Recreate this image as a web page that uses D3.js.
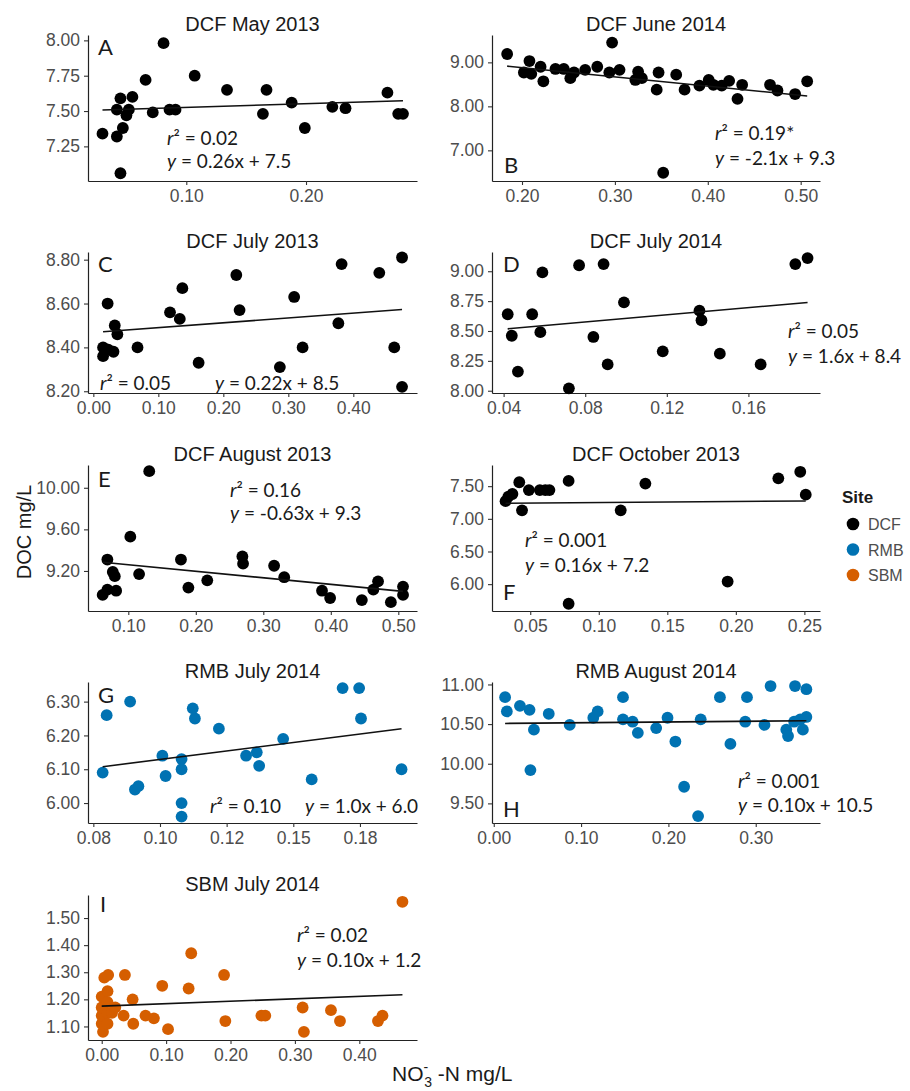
<!DOCTYPE html>
<html>
<head>
<meta charset="utf-8">
<script src="https://cdn.jsdelivr.net/npm/d3@7"></script>
<style>
body { margin: 0; background: #fff; }
</style>
</head>
<body>
<div id="chart"></div>
<script>
// panel info
const titles = ["DCF May 2013", "DCF June 2014", "DCF July 2013", "DCF July 2014", "DCF August 2013",
    "DCF October 2013", "RMB July 2014", "RMB August 2014", "SBM July 2014"];
const letters = ["A", "B", "C", "D", "E", "F", "G", "H", "I"];
const panelSite = ["DCF", "DCF", "DCF", "DCF", "DCF", "DCF", "RMB", "RMB", "SBM"];
const sites = ["DCF", "RMB", "SBM"];
const siteColors = ["#000000", "#0072B2", "#D55E00"];

// NO3-N (x) and DOC (y) per panel
const xA = [0.030,0.042,0.045,0.045,0.042,0.047,0.050,0.052,0.055,0.066,0.072,0.081,0.086,0.091,0.107,0.134,0.164,0.167,0.188,0.199,0.222,0.233,0.268,0.277,0.281];
const yA = [7.34,7.32,7.06,7.59,7.51,7.38,7.47,7.51,7.60,7.72,7.49,7.98,7.51,7.51,7.75,7.65,7.48,7.65,7.56,7.38,7.53,7.52,7.63,7.48,7.48];
const xB = [0.184,0.297,0.352,0.202,0.208,0.210,0.220,0.223,0.236,0.245,0.252,0.256,0.268,0.281,0.294,0.305,0.322,0.325,0.329,0.345,0.347,0.366,0.375,0.391,0.401,0.406,0.415,0.423,0.432,0.437,0.467,0.475,0.494,0.507];
const yB = [9.19,9.45,6.49,8.77,9.03,8.74,8.90,8.57,8.85,8.85,8.64,8.77,8.83,8.90,8.77,8.83,8.60,8.79,8.64,8.38,8.77,8.72,8.38,8.47,8.60,8.49,8.47,8.58,8.17,8.49,8.49,8.36,8.28,8.57];
const xC = [0.015,0.015,0.022,0.023,0.031,0.033,0.037,0.068,0.118,0.133,0.137,0.162,0.220,0.225,0.287,0.309,0.322,0.377,0.382,0.440,0.463,0.475,0.475];
const yC = [8.40,8.36,8.60,8.39,8.38,8.50,8.46,8.40,8.56,8.53,8.67,8.33,8.73,8.57,8.31,8.63,8.40,8.51,8.78,8.74,8.40,8.81,8.22];
const xD = [0.042,0.044,0.047,0.054,0.058,0.059,0.072,0.077,0.084,0.089,0.091,0.099,0.118,0.136,0.137,0.146,0.166,0.183,0.189];
const yD = [8.64,8.46,8.16,8.64,8.49,8.99,8.02,9.05,8.45,9.06,8.22,8.74,8.33,8.67,8.59,8.31,8.22,9.06,9.11];
const xE = [0.062,0.069,0.069,0.077,0.080,0.082,0.103,0.116,0.131,0.178,0.189,0.217,0.269,0.270,0.316,0.331,0.387,0.399,0.446,0.463,0.470,0.489,0.507,0.507];
const yE = [8.97,9.31,9.02,9.19,9.15,9.01,9.53,9.17,10.16,9.31,9.04,9.11,9.34,9.27,9.25,9.14,9.01,8.94,8.92,9.02,9.10,8.90,9.05,8.97];
const xF = [0.032,0.034,0.037,0.042,0.044,0.049,0.057,0.061,0.064,0.078,0.078,0.116,0.134,0.194,0.231,0.247,0.251];
const yF = [7.27,7.34,7.38,7.56,7.13,7.44,7.44,7.44,7.44,7.58,5.70,7.13,7.54,6.04,7.62,7.72,7.37];
const xG = [0.0785,0.080,0.0888,0.0906,0.0919,0.1009,0.1021,0.1081,0.1081,0.1081,0.1081,0.1123,0.1131,0.1221,0.1323,0.1363,0.1372,0.1462,0.1569,0.1685,0.1747,0.1754,0.1906];
const yG = [6.09,6.26,6.30,6.04,6.05,6.14,6.08,6.13,6.10,6.00,5.96,6.28,6.25,6.22,6.14,6.15,6.11,6.19,6.07,6.34,6.34,6.25,6.10];
const xH = [0.013,0.015,0.030,0.041,0.042,0.046,0.063,0.087,0.114,0.119,0.148,0.148,0.159,0.165,0.186,0.199,0.208,0.218,0.234,0.237,0.259,0.271,0.288,0.290,0.310,0.317,0.335,0.337,0.345,0.344,0.351,0.354,0.358,0.358];
const yH = [10.84,10.66,10.73,10.68,9.92,10.43,10.63,10.49,10.58,10.66,10.84,10.56,10.53,10.39,10.45,10.58,10.28,9.71,9.34,10.56,10.84,10.25,10.53,10.84,10.49,10.98,10.43,10.35,10.98,10.53,10.56,10.43,10.94,10.59];
const xI = [0.002,0.000,0.000,0.000,0.000,0.004,0.010,0.009,0.009,0.009,0.009,0.016,0.021,0.034,0.036,0.048,0.049,0.068,0.081,0.094,0.103,0.135,0.139,0.190,0.192,0.248,0.254,0.312,0.314,0.356,0.370,0.429,0.436,0.467];
const yI = [1.08,1.11,1.14,1.17,1.21,1.28,1.29,1.23,1.19,1.15,1.11,1.15,1.17,1.14,1.29,1.20,1.11,1.14,1.13,1.25,1.09,1.24,1.37,1.29,1.12,1.14,1.14,1.17,1.08,1.16,1.12,1.12,1.14,1.56];
const xData = [xA, xB, xC, xD, xE, xF, xG, xH, xI];
const yData = [yA, yB, yC, yD, yE, yF, yG, yH, yI];

// axis ranges and ticks
const xDomains = [[0.0179,0.2927],[0.1677,0.5208],[-0.0082,0.498],[0.0343,0.1951],[0.0403,0.5277],[0.0221,0.2614],[0.073,0.1964],[-0.002,0.3736],[-0.0213,0.4896]];
const yDomains = [[7.005,8.038],[6.303,9.622],[8.192,8.835],[7.981,9.161],[8.815,10.219],[5.589,7.824],[5.941,6.358],[9.2525,11.031],[1.05,1.585]];
const xTicks = [[0.1,0.2],[0.2,0.3,0.4,0.5],[0,0.1,0.2,0.3,0.4],[0.04,0.08,0.12,0.16],[0.1,0.2,0.3,0.4,0.5],[0.05,0.1,0.15,0.2,0.25],[0.075,0.1,0.125,0.15,0.175],[0,0.1,0.2,0.3],[0,0.1,0.2,0.3,0.4]];
const xTickLabels = [["0.10","0.20"],["0.20","0.30","0.40","0.50"],["0.00","0.10","0.20","0.30","0.40"],["0.04","0.08","0.12","0.16"],["0.10","0.20","0.30","0.40","0.50"],["0.05","0.10","0.15","0.20","0.25"],["0.08","0.10","0.12","0.15","0.18"],["0.00","0.10","0.20","0.30"],["0.00","0.10","0.20","0.30","0.40"]];
const yTicks = [[7.25,7.5,7.75,8],[7,8,9],[8.2,8.4,8.6,8.8],[8,8.25,8.5,8.75,9],[9.2,9.6,10],[6,6.5,7,7.5],[6,6.1,6.2,6.3],[9.5,10,10.5,11],[1.1,1.2,1.3,1.4,1.5]];
const yTickLabels = [["7.25","7.50","7.75","8.00"],["7.00","8.00","9.00"],["8.20","8.40","8.60","8.80"],["8.00","8.25","8.50","8.75","9.00"],["9.20","9.60","10.00"],["6.00","6.50","7.00","7.50"],["6.00","6.10","6.20","6.30"],["9.50","10.00","10.50","11.00"],["1.10","1.20","1.30","1.40","1.50"]];

// fitted lines and labels
const fitSlope = [0.26, -2.1, 0.22, 1.5, -0.63, 0.16, 1.0, 0.10, 0.09];
const fitIntercept = [7.50, 9.30, 8.468, 8.455, 9.323, 7.233, 6.029, 10.507, 1.175];
const r2Labels = ["0.02", "0.19*", "0.05", "0.05", "0.16", "0.001", "0.10", "0.001", "0.02"];
const eqLabels = ["0.26x + 7.5", "-2.1x + 9.3", "0.22x + 8.5", "1.6x + 8.4", "-0.63x + 9.3", "0.16x + 7.2", "1.0x + 6.0", "0.10x + 10.5", "0.10x + 1.2"];

// layout (pixels, relative to panel origin)
const colX = [[88, 417], [492, 820]];
const rowY = [[35, 181], [252, 393], [465, 611], [682, 823], [895, 1040]];
const r2Pos = [[79,110],[223,105],[12,138],[296,86],[142,32],[33,82],[122,131],[246,106],[209,47]];
const eqPos = [[79,133],[223,130],[127,138],[296,111],[142,55],[33,107],[217,131],[246,130],[209,72]];
const letterPos = [[10,20],[12,138],[10,20],[11,20],[10,22],[11,135],[10,21],[11,135],[12,17]];

const svg = d3.select("#chart").append("svg")
    .attr("width", 910)
    .attr("height", 1091)
    .style("font-family", "'Liberation Sans', Arial, sans-serif");

svg.append("rect").attr("width", 910).attr("height", 1091).attr("fill", "#fff");

const color = d3.scaleOrdinal().domain(sites).range(siteColors);
const noteFont = "Lato, 'Open Sans', sans-serif";

titles.forEach(function(title, i) {
    let c = i % 2, r = Math.floor(i / 2);
    let x = d3.scaleLinear().domain(xDomains[i]).range(colX[c]);
    let y = d3.scaleLinear().domain(yDomains[i]).range([rowY[r][1], rowY[r][0]]);
    let ox = colX[c][0], oy = rowY[r][0];
    let g = svg.append("g");

    let xa = g.append("g")
        .attr("transform", "translate(0," + rowY[r][1] + ")")
        .call(d3.axisBottom(x).tickValues(xTicks[i])
            .tickFormat(function(d, k) { return xTickLabels[i][k]; })
            .tickSize(4).tickPadding(5).tickSizeOuter(0));
    let ya = g.append("g")
        .attr("transform", "translate(" + ox + ",0)")
        .call(d3.axisLeft(y).tickValues(yTicks[i])
            .tickFormat(function(d, k) { return yTickLabels[i][k]; })
            .tickSize(4).tickPadding(4).tickSizeOuter(0));
    [xa, ya].forEach(function(a) {
        a.select(".domain").attr("stroke", "#222").attr("stroke-width", 1.2);
        a.selectAll(".tick line").attr("stroke", "#333").attr("stroke-width", 1.1);
        a.selectAll(".tick text").attr("fill", "#4d4d4d").style("font-size", "17.5px")
            .style("font-family", "'Liberation Sans', Arial, sans-serif");
    });

    // title
    g.append("text")
        .attr("x", (colX[c][0] + colX[c][1]) / 2)
        .attr("y", oy - 4)
        .attr("text-anchor", "middle")
        .attr("fill", "#1a1a1a")
        .style("font-size", "20px")
        .text(title);

    // points
    let pts = xData[i].map(function(v, k) { return {x: v, y: yData[i][k]}; });
    g.selectAll("circle")
        .data(pts)
        .enter()
        .append("circle")
            .attr("cx", function(d) { return x(d.x); })
            .attr("cy", function(d) { return y(d.y); })
            .attr("r", 5.9)
            .attr("fill", color(panelSite[i]));

    // regression line
    let ext = d3.extent(xData[i]);
    g.append("path")
        .datum(ext)
        .attr("d", d3.line()
            .x(function(d) { return x(d); })
            .y(function(d) { return y(fitSlope[i] * d + fitIntercept[i]); }))
        .attr("stroke", "#111")
        .attr("stroke-width", 1.6)
        .attr("fill", "none");

    // panel letter
    g.append("text")
        .attr("x", ox + letterPos[i][0])
        .attr("y", oy + letterPos[i][1])
        .attr("fill", "#1a1a1a")
        .style("font-family", noteFont)
        .style("font-size", "22px")
        .text(letters[i]);

    // r2 + equation
    let t1 = g.append("text")
        .attr("x", ox + r2Pos[i][0])
        .attr("y", oy + r2Pos[i][1])
        .attr("fill", "#1a1a1a")
        .style("font-family", noteFont)
        .style("font-size", "19px");
    t1.append("tspan").style("font-style", "italic").text("r");
    t1.append("tspan").text("\u00b2 = " + r2Labels[i]);
    let t2 = g.append("text")
        .attr("x", ox + eqPos[i][0])
        .attr("y", oy + eqPos[i][1])
        .attr("fill", "#1a1a1a")
        .style("font-family", noteFont)
        .style("font-size", "19px");
    t2.append("tspan").style("font-style", "italic").text("y");
    t2.append("tspan").text(" = " + eqLabels[i]);
});

// axis titles
svg.append("text")
    .attr("transform", "translate(31,532) rotate(-90)")
    .attr("text-anchor", "middle")
    .attr("fill", "#1a1a1a")
    .style("font-size", "20px")
    .text("DOC mg/L");

let xl = svg.append("text")
    .attr("x", 392)
    .attr("y", 1081)
    .attr("fill", "#1a1a1a")
    .style("font-size", "21px");
xl.append("tspan").text("NO");
xl.append("tspan").attr("dy", -9).style("font-size", "14px").text("-");
xl.append("tspan").attr("dx", -4).attr("dy", 15).style("font-size", "14px").text("3");
xl.append("tspan").attr("dy", -6).text(" -N mg/L");

// legend
let lg = svg.append("g");
lg.append("text")
    .attr("x", 842)
    .attr("y", 503)
    .attr("fill", "#1a1a1a")
    .style("font-size", "17px")
    .style("font-weight", "bold")
    .text("Site");
let items = lg.selectAll(".item")
    .data(sites)
    .enter()
    .append("g")
        .attr("class", "item")
        .attr("transform", function(d, k) { return "translate(853," + (524 + k * 25.5) + ")"; });
items.append("circle")
    .attr("r", 6.3)
    .attr("fill", function(d) { return color(d); });
items.append("text")
    .attr("x", 15)
    .attr("y", 6)
    .attr("fill", "#4d4d4d")
    .style("font-size", "16px")
    .text(function(d) { return d; });
</script>
</body>
</html>
